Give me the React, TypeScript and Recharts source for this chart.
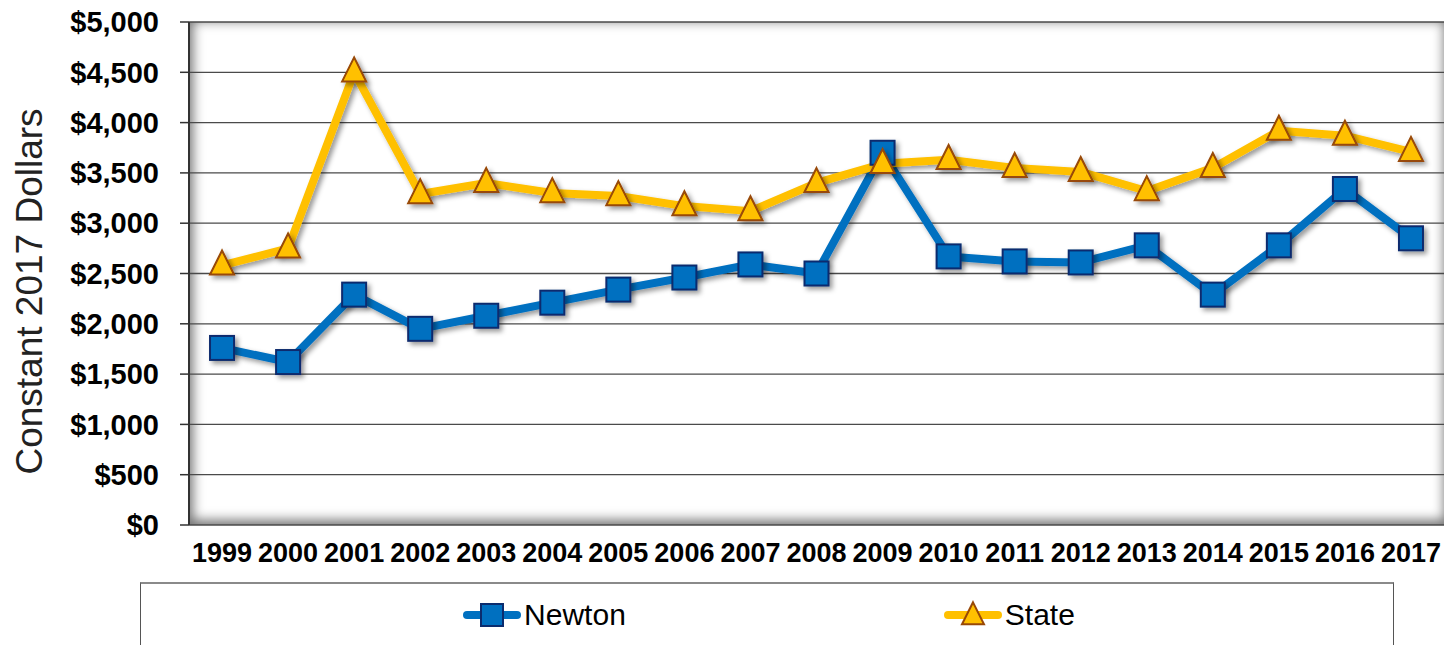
import React from "react";
import { LineChart, Line, XAxis, YAxis, CartesianGrid, Legend } from "recharts";

const years = [
  "1999", "2000", "2001", "2002", "2003", "2004", "2005", "2006", "2007", "2008",
  "2009", "2010", "2011", "2012", "2013", "2014", "2015", "2016", "2017",
];
const newton = [1760, 1620, 2290, 1950, 2080, 2210, 2340, 2460, 2590, 2500, 3700, 2670, 2620, 2610, 2780, 2290, 2780, 3340, 2850];
const state = [2580, 2750, 4500, 3290, 3400, 3300, 3270, 3170, 3120, 3400, 3590, 3630, 3550, 3510, 3320, 3550, 3920, 3870, 3710];
const yTicks = [0, 500, 1000, 1500, 2000, 2500, 3000, 3500, 4000, 4500, 5000];

// x positions sit in the middle of each year band; band edges carry the tick marks
const data = years.map((year, i) => ({ year, pos: i + 0.5, newton: newton[i], state: state[i] }));
const bandEdges = years.map((_, i) => i).concat(years.length);
const bandMids = years.map((_, i) => i + 0.5);

const FONT = "'Liberation Sans', Arial, sans-serif";
const BLUE = "#0070C0";
const BLUE_EDGE = "#0B2C6E";
const GOLD = "#FFC000";
const GOLD_EDGE = "#984807";

const Square = ({ cx, cy, size = 24 }: any) => (
  <rect
    x={cx - size / 2}
    y={cy - size / 2}
    width={size}
    height={size}
    fill={BLUE}
    stroke={BLUE_EDGE}
    strokeWidth={2}
  />
);

const Triangle = ({ cx, cy, size = 24 }: any) => {
  const h = size;
  const pts = `${cx},${cy - h * 0.62} ${cx + size / 2},${cy + h * 0.38} ${cx - size / 2},${cy + h * 0.38}`;
  return <polygon points={pts} fill={GOLD} stroke={GOLD_EDGE} strokeWidth={2} strokeLinejoin="miter" />;
};

const LegendIcon = ({ color, marker }: { color: string; marker: "square" | "triangle" }) => (
  <svg width={58} height={30} style={{ display: "block" }}>
    <line x1={4} y1={15} x2={54} y2={15} stroke={color} strokeWidth={8} strokeLinecap="round" />
    {marker === "square" ? <Square cx={29} cy={15} size={22} /> : <Triangle cx={29} cy={16} size={22} />}
  </svg>
);

const renderLegend = () => (
  <div
    style={{
      boxSizing: "border-box",
      height: 63,
      background: "#fff",
      borderTop: "2px solid #8a8a8a",
      borderLeft: "1.5px solid #555",
      borderRight: "1.5px solid #555",
      display: "flex",
      justifyContent: "center",
      alignItems: "center",
      gap: 318,
      paddingLeft: 4,
      fontFamily: FONT,
      fontSize: 30,
      color: "#000",
    }}
  >
    <div style={{ display: "flex", alignItems: "center", gap: 3 }}>
      <LegendIcon color={BLUE} marker="square" />
      <span>Newton</span>
    </div>
    <div style={{ display: "flex", alignItems: "center", gap: 3 }}>
      <LegendIcon color={GOLD} marker="triangle" />
      <span>State</span>
    </div>
  </div>
);

const YLabel = (props: any) => {
  const { x, y, height } = props.viewBox;
  const cx = x + 29;
  const cy = y + height / 2 + 18;
  return (
    <text
      x={cx}
      y={cy}
      transform={`rotate(-90, ${cx}, ${cy})`}
      textAnchor="middle"
      dominantBaseline="central"
      fontFamily={FONT}
      fontSize={37}
      fill="#222"
    >
      Constant 2017 Dollars
    </text>
  );
};

const App: React.FC = () => {
  return (
    <div style={{ position: "absolute", left: 0, top: 0, width: 1444, height: 645, background: "#fff" }}>
      <style>{`.shadowed .recharts-line-curve, .shadowed .recharts-line-dots { filter: url(#softShadow); }`}</style>
      {/* inner shading of the plot area */}
      <div
        style={{
          position: "absolute",
          left: 189,
          top: 22,
          width: 1255,
          height: 503,
          background: "#fff",
          boxShadow: "inset 2px -3px 12px 2px rgba(0,0,0,0.55)",
        }}
      />
      <LineChart
        className="shadowed"
        width={1444}
        height={645}
        data={data}
        margin={{ top: 22, right: 0, bottom: 0, left: 0 }}
      >
        <defs>
          <filter id="softShadow" x="-10%" y="-10%" width="130%" height="130%">
            <feDropShadow dx={3} dy={3} stdDeviation={2.5} floodColor="#000" floodOpacity={0.4} />
          </filter>
        </defs>
        <CartesianGrid vertical={false} stroke="#4a4a4a" strokeWidth={1.3} />
        <XAxis
          xAxisId="marks"
          type="number"
          domain={[0, years.length]}
          ticks={bandEdges}
          tick={false}
          height={0}
          tickSize={8}
          axisLine={{ stroke: "#333", strokeWidth: 1.5 }}
          tickLine={{ stroke: "#333", strokeWidth: 1.5 }}
        />
        <XAxis
          xAxisId="labels"
          type="number"
          dataKey="pos"
          domain={[0, years.length]}
          ticks={bandMids}
          interval={0}
          tickFormatter={(v: number) => years[Math.floor(v)]}
          height={57}
          axisLine={false}
          tickLine={false}
          tickSize={0}
          tickMargin={18}
          tick={{ fill: "#000", fontFamily: FONT, fontSize: 27, fontWeight: 700 }}
        />
        <YAxis
          domain={[0, 5000]}
          ticks={yTicks}
          interval={0}
          width={189}
          tickSize={9}
          tickMargin={21}
          tickFormatter={(v: number) => `$${v.toLocaleString("en-US")}`}
          axisLine={{ stroke: "#333", strokeWidth: 2 }}
          tickLine={{ stroke: "#333", strokeWidth: 1.5 }}
          tick={{ fill: "#000", fontFamily: FONT, fontSize: 29, fontWeight: 700 }}
          label={<YLabel />}
        />
        <Legend verticalAlign="bottom" content={renderLegend} wrapperStyle={{ left: 140, width: 1254, bottom: 0 }} />
        <Line
          xAxisId="labels"
          dataKey="newton"
          name="Newton"
          stroke={BLUE}
          strokeWidth={8}
          strokeLinejoin="round"
          dot={(p: any) => <Square key={`n-${p.index}`} cx={p.cx} cy={p.cy} />}
          isAnimationActive={false}
        />
        <Line
          xAxisId="labels"
          dataKey="state"
          name="State"
          stroke={GOLD}
          strokeWidth={8}
          strokeLinejoin="round"
          dot={(p: any) => <Triangle key={`s-${p.index}`} cx={p.cx} cy={p.cy} />}
          isAnimationActive={false}
        />
      </LineChart>
    </div>
  );
};

export default App;
